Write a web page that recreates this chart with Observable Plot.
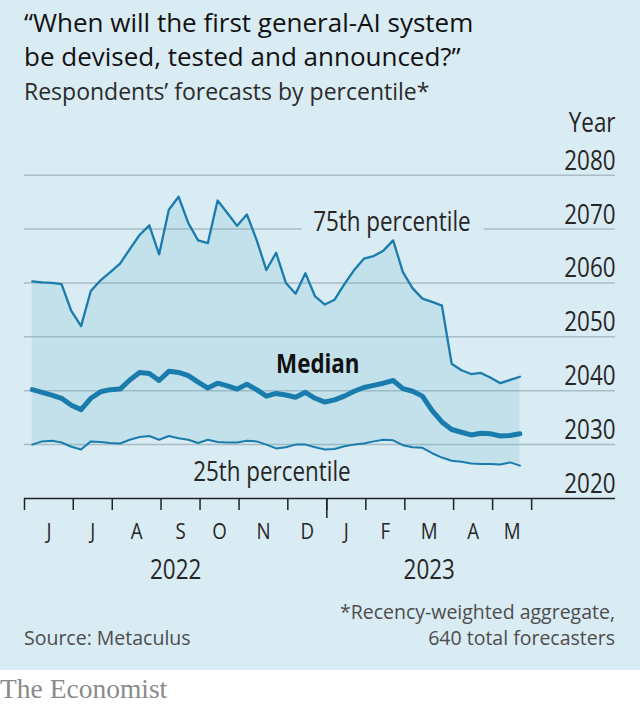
<!DOCTYPE html>
<html><head><meta charset="utf-8">
<script src="https://cdn.jsdelivr.net/npm/d3@7"></script>
<script src="https://cdn.jsdelivr.net/npm/@observablehq/plot@0.6"></script>
<style>
html,body{margin:0;padding:0;background:#fff;width:640px;height:708px;overflow:hidden;font-family:'Open Sans',sans-serif;}
#bg{position:absolute;left:0;top:0;width:640px;height:670px;background:#d9ebf3;}
.t{position:absolute;white-space:nowrap;}
#chart{position:absolute;left:0;top:105px;}
</style></head><body>
<div id="bg"></div>
<div class="t" style="left:24px;top:4.6px;font-size:26px;line-height:34px;color:#121212">“When will the first general-AI system<br>be devised, tested and announced?”</div>
<div class="t" style="left:24px;top:76px;font-size:23px;line-height:30px;color:#2b2b2b">Respondents’ forecasts by percentile*</div>
<div id="chart"></div>
<div class="t" style="left:24px;top:624.5px;font-size:19.5px;line-height:26px;color:#4d4d4d">Source: Metaculus</div>
<div class="t" style="right:25px;top:598.5px;font-size:19.5px;line-height:26px;color:#4d4d4d;text-align:right">*Recency-weighted aggregate,<br>640 total forecasters</div>
<div class="t" style="left:0;top:673.7px;font-family:'Liberation Serif',serif;font-size:27.5px;line-height:30px;color:#8a8a8a">The Economist</div>
<script>
// Weekly readings (Wednesdays, 1 Jun 2022 – 17 May 2023), forecast year
const p75 = [2060.3,2060.1,2060.0,2059.8,2054.8,2052.0,2058.5,2060.5,2062.0,2063.6,
  2066.3,2068.9,2070.7,2065.3,2073.6,2076.0,2071.1,2067.9,2067.4,2075.3,
  2073.0,2070.6,2072.7,2068.0,2062.4,2065.6,2060.0,2058.0,2061.8,2057.5,
  2056.0,2056.9,2059.8,2062.4,2064.5,2065.0,2066.0,2067.9,2062.0,2059.0,
  2057.1,2056.5,2055.8,2045.0,2043.8,2043.1,2043.3,2042.4,2041.4,2042.0,2042.6];
const median = [2040.2,2039.7,2039.2,2038.6,2037.3,2036.5,2038.6,2039.8,2040.2,2040.3,
  2042.0,2043.4,2043.2,2041.9,2043.6,2043.4,2042.8,2041.6,2040.5,2041.4,
  2040.9,2040.3,2041.2,2040.2,2039.0,2039.5,2039.2,2038.8,2039.7,2038.6,
  2037.9,2038.3,2039.0,2039.9,2040.6,2041.0,2041.4,2041.9,2040.4,2039.9,
  2039.0,2036.3,2034.2,2032.8,2032.3,2031.8,2032.1,2032.0,2031.6,2031.7,2032.0];
const p25 = [2030.0,2030.6,2030.7,2030.4,2029.6,2029.1,2030.6,2030.5,2030.3,2030.2,
  2030.9,2031.4,2031.6,2030.9,2031.6,2031.2,2030.9,2030.3,2030.9,2030.5,
  2030.4,2030.4,2030.7,2030.6,2030.0,2029.3,2029.5,2030.0,2030.0,2029.5,
  2029.1,2029.2,2029.7,2030.0,2030.2,2030.6,2030.9,2030.8,2029.9,2029.5,
  2029.4,2028.4,2027.6,2027.0,2026.8,2026.5,2026.4,2026.4,2026.3,2026.7,2026.1];

const monthLabels = ["J","J","A","S","O","N","D","J","F","M","A","M"];
const monthStartWeek = [0,5,9,14,18,22,27,31,35,39,44,48,52];
const yearLabels = ["2022","2023"];
const yearStartMonth = [0,7,12];
const yTicks = [2020,2030,2040,2050,2060,2070,2080];
const seriesLabels = [
  {text:"75th percentile", week:28.8, year:2069.7},
  {text:"Median", week:25.0, year:2043.2},
  {text:"25th percentile", week:16.5, year:2023.3}
];

const TICK_OFFSET = 0.8;
const data = p75.map((v,i)=>({i, p25:p25[i], median:median[i], p75:v}));
const tickPos = monthStartWeek.map(w => w - TICK_OFFSET);
const monthData = monthLabels.map((m,k)=>({label:m, x:(tickPos[k]+tickPos[k+1])/2}));
const yearData = yearLabels.map((y,k)=>({label:y, x:(tickPos[yearStartMonth[k]]+tickPos[yearStartMonth[k+1]])/2}));

const BG="#d9ebf3", BLUE="#1a7cad", INK="#262626";
const FONT="'Open Sans', sans-serif";

const chart = Plot.plot({
  width:640, height:485,
  marginLeft:24, marginRight:25, marginTop:69.7, marginBottom:92,
  x:{type:"linear", domain:[-0.8, 59.8], axis:null},
  y:{type:"linear", domain:[2020,2080], axis:null},
  style:{background:"transparent", fontFamily:FONT, overflow:"visible", color:INK},
  marks:[
    Plot.ruleY(yTicks.filter(d=>d>2020), {y:d=>d, stroke:"#a9bdc7", strokeWidth:1.5}),
    Plot.text([seriesLabels[0]], {x:"week", y:"year", text:"text", textAnchor:"start", lineAnchor:"bottom", fontSize:28, fill:"none", stroke:BG, strokeWidth:37, strokeLinejoin:"round"}),
    Plot.areaY(data, {x:"i", y1:"p25", y2:"p75", fill:"#4aaebf", fillOpacity:0.16}),
    Plot.lineY(data, {x:"i", y:"p75", stroke:BLUE, strokeWidth:2.3}),
    Plot.lineY(data, {x:"i", y:"p25", stroke:BLUE, strokeWidth:2}),
    Plot.lineY(data, {x:"i", y:"median", stroke:BLUE, strokeWidth:5, strokeLinejoin:"round"}),
    Plot.text([seriesLabels[0], seriesLabels[2]], {x:"week", y:"year", text:"text", textAnchor:"start", lineAnchor:"bottom", fontSize:28, fill:INK}),
    Plot.text([seriesLabels[1]], {x:"week", y:"year", text:"text", textAnchor:"start", lineAnchor:"bottom", fontSize:26, fontWeight:700, fill:"#111"}),
    Plot.ruleY([2020], {y:d=>d, stroke:"#222", strokeWidth:1.5}),
    Plot.axisX({ticks:tickPos, tickSize:12, tickFormat:()=>"", stroke:"#222", strokeWidth:1.5}),
    Plot.axisX({ticks:[tickPos[yearStartMonth[1]]], tickSize:20, tickFormat:()=>"", stroke:"#222", strokeWidth:1.5}),
    Plot.text(monthData, {x:"x", text:"label", frameAnchor:"bottom", lineAnchor:"bottom", dy:40, fontSize:22, fill:INK}),
    Plot.text(yearData, {x:"x", text:"label", frameAnchor:"bottom", lineAnchor:"bottom", dy:80, fontSize:28, fill:INK}),
    Plot.text(yTicks, {y:d=>d, text:d=>String(d), frameAnchor:"right", textAnchor:"end", lineAnchor:"bottom", dy:-5.5, fontSize:28, fill:INK}),
    Plot.text(["Year"], {text:d=>d, frameAnchor:"top-right", textAnchor:"end", lineAnchor:"bottom", dy:-43, fontSize:28, fill:INK})
  ]
});

function condense(svg){
  const num = v => v != null && /^-?[\d.]+$/.test(v);
  svg.querySelectorAll("text").forEach(t=>{
    const s = t.textContent;
    const k = s === "Median" ? 0.86 : (s.length === 1 ? 0.85 : 0.8);
    let tr = t.getAttribute("transform") || "";
    const x = t.getAttribute("x"), y = t.getAttribute("y");
    if (num(x) || num(y)) {
      tr += ` translate(${num(x)?x:0},${num(y)?y:0})`;
      if (num(x)) t.removeAttribute("x");
      if (num(y)) t.removeAttribute("y");
    }
    t.setAttribute("transform", tr + ` scale(${k},1)`);
  });
}
condense(chart);
document.getElementById("chart").appendChild(chart);
</script>
</body></html>
